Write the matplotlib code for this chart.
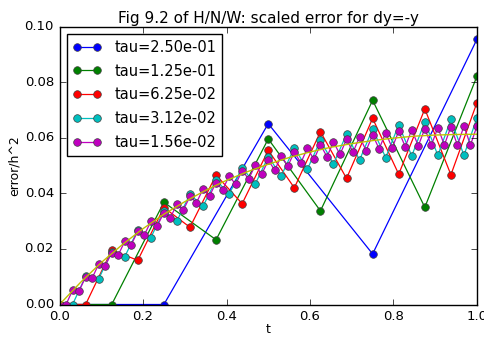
import numpy as np
import matplotlib
matplotlib.use('Agg')
import matplotlib.pyplot as plt

plt.style.use('classic')

# scaled error at the grid points t = k*tau
taus = [2.5e-01, 1.25e-01, 6.25e-02, 3.125e-02, 1.5625e-02]
colors = ['b', 'g', 'r', 'c', 'm']

err_250 = [0.0000, 0.0000, 0.0651, 0.0182, 0.0955]
err_125 = [0.0000, 0.0000, 0.0368, 0.0233, 0.0596, 0.0337, 0.0735, 0.0350,
           0.0822]
err_0625 = [0.0000, 0.0000, 0.0196, 0.0159, 0.0349, 0.0278, 0.0466, 0.0363,
            0.0555, 0.0420, 0.0622, 0.0454, 0.0670, 0.0469, 0.0704, 0.0467,
            0.0727]
err_0312 = [0.0000, 0.0000, 0.0101, 0.0092, 0.0190, 0.0172, 0.0268, 0.0241,
            0.0337, 0.0301, 0.0397, 0.0353, 0.0449, 0.0396, 0.0493, 0.0433,
            0.0532, 0.0463, 0.0564, 0.0487, 0.0591, 0.0506, 0.0613, 0.0520,
            0.0632, 0.0529, 0.0646, 0.0535, 0.0658, 0.0537, 0.0666, 0.0537,
            0.0672]
err_0156 = [0.0000, 0.0000, 0.0051, 0.0049, 0.0099, 0.0095, 0.0145, 0.0138,
            0.0187, 0.0178, 0.0227, 0.0215, 0.0264, 0.0250, 0.0299, 0.0283,
            0.0331, 0.0313, 0.0361, 0.0341, 0.0389, 0.0367, 0.0415, 0.0391,
            0.0439, 0.0413, 0.0462, 0.0433, 0.0482, 0.0452, 0.0501, 0.0469,
            0.0519, 0.0484, 0.0535, 0.0498, 0.0549, 0.0510, 0.0563, 0.0522,
            0.0575, 0.0532, 0.0585, 0.0540, 0.0595, 0.0548, 0.0604, 0.0554,
            0.0611, 0.0560, 0.0618, 0.0564, 0.0624, 0.0568, 0.0629, 0.0571,
            0.0633, 0.0573, 0.0637, 0.0574, 0.0640, 0.0574, 0.0642, 0.0574,
            0.0643]
errors = [err_250, err_125, err_0625, err_0312, err_0156]

# limit curve (yellow, no markers)
t_lim = [0.00, 0.05, 0.10, 0.15, 0.20, 0.25, 0.30, 0.35, 0.40, 0.45, 0.50,
         0.55, 0.60, 0.65, 0.70, 0.75, 0.80, 0.85, 0.90, 0.95, 1.00]
e_lim = [0.0000, 0.0079, 0.0151, 0.0215, 0.0273, 0.0325, 0.0370, 0.0411,
         0.0447, 0.0478, 0.0505, 0.0529, 0.0549, 0.0566, 0.0579, 0.0590,
         0.0599, 0.0606, 0.0610, 0.0612, 0.0613]

fig = plt.figure(figsize=(4.85, 3.38), dpi=100, facecolor='white')
ax = fig.add_axes([0.1227, 0.0991, 0.8608, 0.8219])

for tau, err, c in zip(taus, errors, colors):
    t = np.arange(len(err)) * tau
    ax.plot(t, err, '-o', color=c, lw=0.9, ms=5.5, mec='0.25', mew=0.5,
            label='tau=%.2e' % tau)
ax.plot(t_lim, e_lim, '-', color='y', lw=1.0)

ax.set_xlim(0, 1)
ax.set_ylim(0, 0.10)
ax.set_xticks(np.arange(0, 1.01, 0.2))
ax.set_yticks(np.arange(0, 0.101, 0.02))
ax.tick_params(labelsize=9.5, pad=4)
ax.set_title('Fig 9.2 of H/N/W: scaled error for dy=-y', fontsize=11, pad=3)
ax.set_xlabel('t', fontsize=9, labelpad=0)
ax.set_ylabel('error/h^2', fontsize=9, labelpad=3)

ax.legend(loc='upper left', fontsize=10.5, numpoints=2, handlelength=2.0,
          handletextpad=0.85, borderpad=0.4, borderaxespad=0.5,
          labelspacing=0.6, fancybox=False)

fig.savefig('out.png', dpi=100, facecolor='white')
